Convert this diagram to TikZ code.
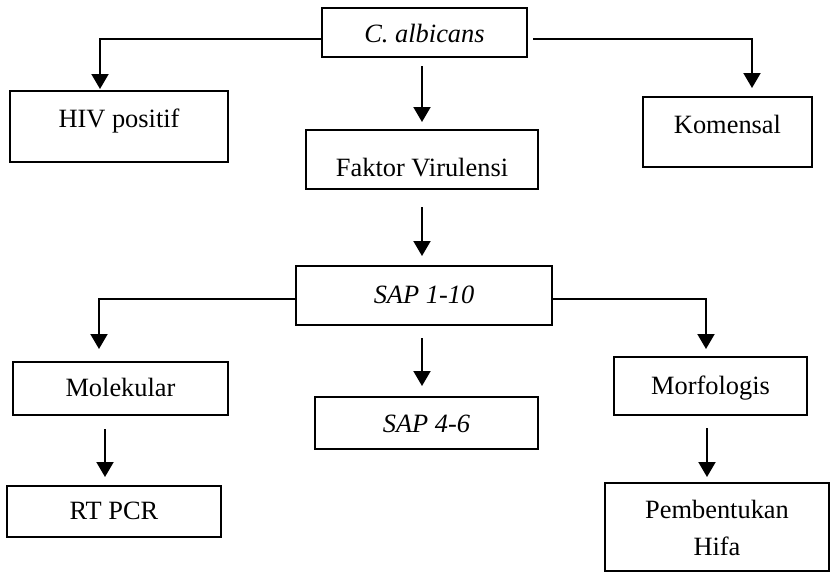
\documentclass[tikz,border=0pt]{standalone}
\usepackage{fontspec}
\setmainfont{Liberation Serif}
\usetikzlibrary{arrows.meta,calc}

\begin{document}
\begin{tikzpicture}[x=0.5pt, y=-0.5pt, line width=1pt,
  font=\fontsize{13.2}{18.5}\selectfont,
  main/.style = {draw, rectangle, inner xsep=0pt, inner ysep=0pt, anchor=base},
  conn/.style = {-{Triangle[length=7.5pt,width=8.5pt]}}]
  \useasboundingbox (0,0) rectangle (831,573);
  \node[main, minimum width=102.5pt, text height=17pt, text depth=7.5pt] (calb) at (424.5,42) {\textit{C. albicans}};
  \node[main, minimum width=109pt, text height=18pt, text depth=17.5pt] (hiv) at (119,127) {HIV positif};
  \node[main, minimum width=84.5pt, text height=18pt, text depth=17pt] (kom) at (727.5,133) {Komensal};
  \node[main, minimum width=116pt, text height=23pt, text depth=6.5pt] (fak) at (422,176) {Faktor Virulensi};
  \node[main, minimum width=128pt, text height=18.5pt, text depth=11pt] (sap) at (424,303) {\textit{SAP 1-10}};
  \node[main, minimum width=107.5pt, text height=17pt, text depth=9.5pt] (mol) at (120.5,396) {Molekular};
  \node[main, minimum width=111.5pt, text height=17.5pt, text depth=8.5pt] (sapb) at (426.5,432) {\textit{SAP 4-6}};
  \node[main, minimum width=96.5pt, text height=18.5pt, text depth=10.5pt] (morf) at (710.5,394) {Morfologis};
  \node[main, minimum width=107pt, text height=16.5pt, text depth=9pt] (rt) at (114,519) {RT PCR};
  \node[main, minimum width=112pt, text height=17.5pt, text depth=26.5pt] (pemb) at (717,518) {\parbox[t]{112pt}{\centering Pembentukan\\Hifa}};
  \draw[conn] ($(calb.west)+(0,6.5)$) -| ($(hiv.north)+(-19,-1)$);
  \draw[conn] ($(calb.east)+(5,6.5)$) -| ($(kom.north)+(24.5,-8)$);
  \draw[conn] ($(calb.south)+(-2.5,8)$) -- ($(fak.north)+(0,-7)$);
  \draw[conn] ($(fak.south)+(0,17)$) -- ($(sap.north)+(-2,-9)$);
  \draw[conn] ($(sap.west)+(0,3.5)$) -| ($(mol.north)+(-21.5,-12)$);
  \draw[conn] ($(sap.east)+(0,3.5)$) -| ($(morf.north)+(-4.5,-7)$);
  \draw[conn] ($(sap.south)+(-2,12)$) -- ($(sapb.north)+(-4.5,-10)$);
  \draw[conn] ($(mol.south)+(-15.5,13)$) -- ($(rt.north)+(-9,-8)$);
  \draw[conn] ($(morf.south)+(-3.5,12)$) -- ($(pemb.north)+(-10,-5)$);
\end{tikzpicture}
\end{document}
